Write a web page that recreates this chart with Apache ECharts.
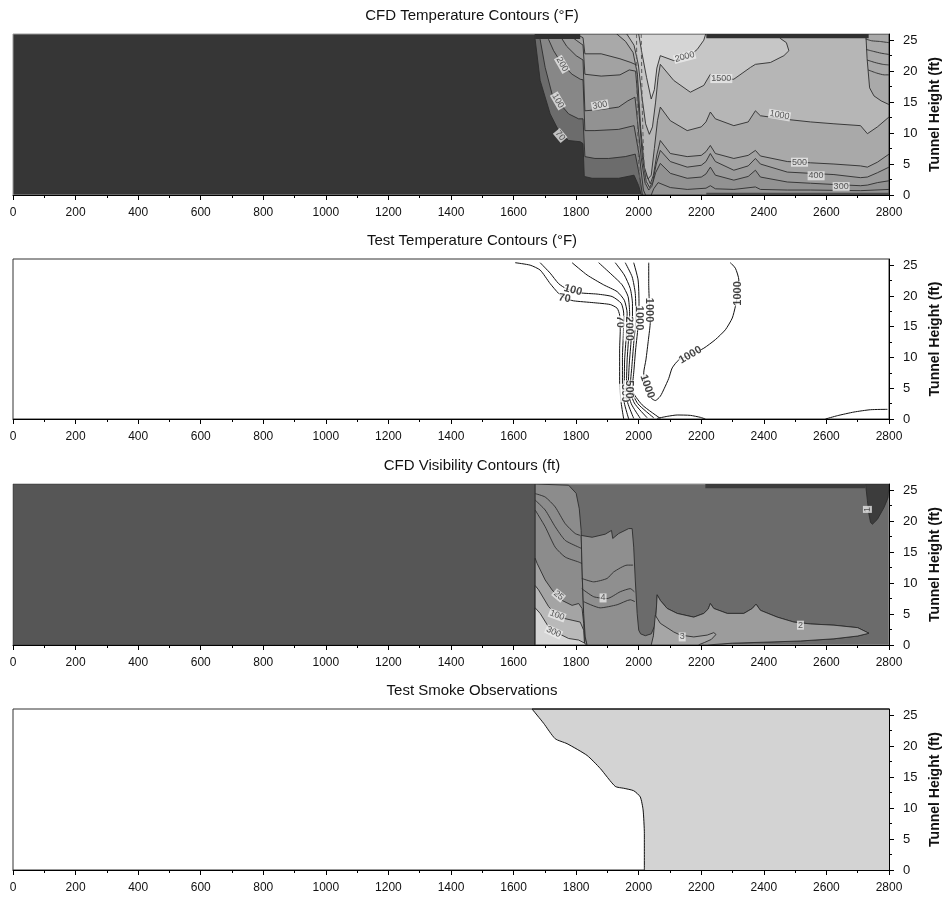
<!DOCTYPE html>
<html>
<head>
<meta charset="utf-8">
<script src="https://cdn.jsdelivr.net/npm/echarts@6/dist/echarts.min.js"></script>
<style>html,body{margin:0;padding:0;background:#fff}#c{width:944px;height:900px}</style>
</head>
<body>
<div id="c"></div>
<script>
// ---------- shared axis data ----------
const xRange = [0, 2800];
const yRange = [0, 26];
const yTickValues = [0, 5, 10, 15, 20, 25];
const panelTitles = ['CFD Temperature Contours (\u00B0F)', 'Test Temperature Contours (\u00B0F)', 'CFD Visibility Contours (ft)', 'Test Smoke Observations'];
const yAxisName = 'Tunnel Height (ft)';

// ---------- Panel 1: CFD temperature, filled regions (>= level) ----------
const cfdT70 = [[1669,26],[1669,25.1],[1685,18.5],[1717,13.1],[1744,10.4],[1776,8.8],[1813,8.6],[1822,8.3],[1826,3.0],[1851,2.7],[1936,2.7],[1985,3.2],[2000,1.5],[2008,0],[2800,0],[2800,26]];
const cfdT100 = [[1685,26],[1685,25.1],[1701,20.6],[1723,16.3],[1744,15.0],[1776,13.1],[1808,12.3],[1822,12.3],[1828,6.2],[1860,5.9],[1904,5.9],[1957,6.2],[1989,6.6],[2003,3.0],[2012,0],[2800,0],[2800,26]];
const cfdT200 = [[1712,26],[1712,25.1],[1728,23.3],[1755,21.1],[1787,19.5],[1813,18.7],[1822,18.6],[1828,10.4],[1860,10.4],[1936,10.6],[1985,11.2],[2003,6.0],[2015,0.8],[2022,0],[2800,0],[2800,26]];
const cfdTFloorBand = [[2040,0],[2048,1.0],[2062,2.0],[2101,1.2],[2155,0.9],[2215,1.1],[2229,1.5],[2245,1.0],[2304,0.9],[2373,1.3],[2389,0.9],[2475,0.8],[2549,0.8],[2709,0.7],[2800,0.9],[2800,0]];
const cfdT300 = [[1745,26],[1770,24.0],[1800,22.5],[1822,21.8],[1828,13.6],[1880,13.8],[1936,14.2],[1965,15.2],[1988,15.8],[1996,12.0],[2008,6.0],[2020,2.0],[2032,0.8],[2042,1.4],[2054,3.6],[2069,5.1],[2101,3.5],[2155,2.7],[2200,2.9],[2215,3.4],[2229,4.5],[2245,3.2],[2304,2.4],[2350,3.0],[2373,4.0],[2389,2.9],[2475,2.1],[2549,1.9],[2624,1.7],[2709,1.5],[2731,1.6],[2763,2.0],[2800,2.3],[2800,26]];
const cfdT400 = [[1775,26],[1800,25.0],[1822,24.2],[1828,19.5],[1880,19.2],[1940,19.4],[1970,20.2],[1990,20.0],[2000,14.0],[2012,6.0],[2024,2.2],[2035,1.2],[2045,2.2],[2056,5.0],[2069,7.2],[2101,5.4],[2155,4.5],[2200,4.8],[2215,5.4],[2229,6.7],[2245,5.4],[2304,4.0],[2350,4.7],[2373,5.9],[2389,5.0],[2475,3.7],[2549,3.5],[2624,3.3],[2709,2.8],[2731,2.9],[2763,3.6],[2800,4.5],[2800,26]];
const cfdT500 = [[1800,26],[1822,25.4],[1828,22.8],[1880,22.8],[1940,22.0],[1975,21.4],[1993,21.0],[2003,15.0],[2015,7.0],[2027,3.0],[2037,1.8],[2047,3.2],[2058,6.5],[2069,8.8],[2101,6.7],[2155,6.2],[2200,6.4],[2215,7.0],[2229,8.0],[2245,6.7],[2304,5.9],[2350,6.4],[2373,7.2],[2389,6.3],[2475,5.4],[2549,5.2],[2624,5.0],[2709,4.7],[2731,4.5],[2763,5.3],[2800,6.6],[2800,26]];
const cfdT1000 = [[1930,26],[1958,24.8],[1982,23.0],[1996,19.5],[2006,11.0],[2018,4.5],[2030,2.6],[2040,3.2],[2050,7.5],[2060,12.0],[2069,14.2],[2101,12.0],[2155,10.4],[2200,11.0],[2215,11.8],[2229,13.4],[2245,12.3],[2304,11.2],[2350,11.8],[2373,13.6],[2389,12.8],[2475,12.2],[2549,11.8],[2624,11.5],[2709,11.2],[2731,9.9],[2763,11.0],[2800,12.6],[2800,14.6],[2775,15.2],[2752,16.0],[2738,17.3],[2730,22.0],[2726,26]];
const cfdT1500 = [[1962,26],[1985,24.2],[1999,21.0],[2010,16.0],[2022,11.5],[2034,9.8],[2044,11.0],[2054,15.0],[2062,19.0],[2069,21.1],[2112,18.5],[2165,16.6],[2208,17.7],[2229,19.5],[2245,18.7],[2304,18.7],[2357,20.6],[2373,21.1],[2421,21.4],[2464,22.5],[2480,23.3],[2472,24.6],[2452,25.3],[2440,26]];
const cfdT2000 = [[2000,26],[2010,23.0],[2025,19.0],[2040,15.5],[2050,17.0],[2058,20.5],[2069,22.5],[2112,21.7],[2155,22.2],[2187,23.5],[2208,25.0],[2214,26]];
const cfdTCeilLeft = [[1669,25.2],[1813,25.2],[1813,26],[1669,26]];
const cfdTCeilRight = [[2216,25.3],[2735,25.3],[2735,26],[2216,26]];
const cfdTFloorStrip = [[2216,0],[2216,0.35],[2800,0.35],[2800,0]];
const cfdTWallLines = [
  [[2725,25.2],[2745,24.9],[2770,24.8],[2800,24.6]],
  [[2727,23.5],[2750,23.2],[2775,22.9],[2800,22.7]],
  [[2730,21.8],[2755,21.4],[2780,21.1],[2800,21.0]],
  [[2733,20.2],[2760,19.7],[2785,19.4],[2800,19.4]]
];
const cfdTPlumeLines = [
  [[1993,26],[1995,15],[1999,6],[2005,1.2]],
  [[2008,26],[2011,15],[2016,6],[2022,1.2]]
];
const cfdTLabels = [
  [2147,22.3,'2000',15],[2264,18.8,'1500',0],[2450,12.9,'1000',-10],[2514,5.3,'500',0],
  [2567,3.1,'400',0],[2647,1.35,'300',0],[1876,14.5,'300',10],[1755,21.1,'200',-60],
  [1742,15.2,'100',-60],[1749,9.6,'70',-50]
];

// ---------- Panel 2: test temperature contour lines ----------
const testT70 = [[1605,25.4],[1653,25.0],[1685,24.2],[1717,22.0],[1744,20.4],[1765,19.6],[1792,19.2],[1856,18.9],[1909,18.6],[1931,18.0],[1939,16.9],[1941,14.5],[1939,11.2],[1939,5.8],[1944,2.6],[1952,0]];
const testT100 = [[1685,25.4],[1717,23.7],[1744,22.0],[1771,21.1],[1813,20.5],[1867,20.3],[1915,19.9],[1944,18.8],[1952,17.2],[1951,13.9],[1948,10.0],[1948,5.8],[1954,2.6],[1968,0]];
const testTa = [[1787,25.4],[1835,23.4],[1888,21.8],[1931,20.7],[1954,19.3],[1963,17.2],[1960,13.4],[1955,9.6],[1954,5.8],[1965,2.6],[1984,0.1]];
const testTb = [[1872,25.4],[1915,23.4],[1947,21.8],[1966,19.9],[1971,17.2],[1968,13.4],[1963,9.6],[1961,5.8],[1976,2.5],[2005,0.1]];
const testTc = [[1925,25.4],[1954,23.4],[1973,21.2],[1980,18.8],[1980,16.6],[1976,12.9],[1970,9.1],[1967,5.8],[1986,2.6],[2027,0.2]];
const testTd = [[1957,25.4],[1979,23.1],[1989,20.4],[1991,16.6],[1984,12.3],[1978,8.5],[1973,5.3],[1997,2.5],[2048,0.2]];
const testTe = [[1984,25.4],[1998,22.6],[2001,18.8],[1999,15.6],[1990,11.2],[1984,7.5],[1979,4.8],[2011,2.3],[2069,0.1]];
const testT1000 = [[2032,25.4],[2032,22.0],[2034,18.8],[2037,15.8],[2031,12.9],[2023,9.6],[2016,7.5],[2019,6.1],[2027,4.8],[2040,3.4],[2053,3.0],[2069,3.7],[2082,5.0],[2096,6.6],[2107,8.3],[2128,9.6],[2165,10.4],[2208,11.5],[2245,12.9],[2277,14.5],[2299,16.4],[2309,18.3],[2317,20.4],[2320,22.6],[2309,24.5],[2293,25.4]];
const testFloorBump = [[2059,0.1],[2091,0.43],[2123,0.65],[2165,0.59],[2197,0.27],[2213,0]];
const testFloorRight = [[2597,0],[2635,0.54],[2688,1.13],[2741,1.51],[2795,1.57]];
const testTLabels = [
  [1790,20.95,'100',-15],[1763,19.6,'70',-10],[1941,15.8,'70',-90],[1969,14.7,'2000',-90],
  [2000,16.4,'1000',-90],[2034,17.7,'1000',-90],[2317,20.4,'1000',90],[2165,10.4,'1000',30],
  [2027,5.3,'1000',-70],[1955,4.2,'300',-90],[1970,4.8,'500',-90]
];

// ---------- Panel 3: CFD visibility regions ----------
const visLeft = [[0,0],[0,26],[1669,26],[1669,0]];
const visZoneA = [[1669,26],[1776,25.8],[1800,24.5],[1810,22.0],[1816,18.5],[1820,10.5],[1824,5.1],[1829,1.3],[1835,0],[1669,0]];
const visZone25 = [[1669,14.0],[1675,13.2],[1701,10.5],[1723,8.9],[1755,7.2],[1787,6.4],[1808,6.7],[1819,5.9],[1824,3.5],[1827,0],[1669,0]];
const visZone100 = [[1669,9.6],[1680,8.9],[1712,6.2],[1744,4.5],[1787,4.0],[1813,3.7],[1824,2.4],[1827,0],[1669,0]];
const visZone300 = [[1669,6.0],[1685,5.1],[1712,2.9],[1744,1.85],[1776,1.05],[1808,0.8],[1829,0.25],[1832,0],[1669,0]];
const visZoneB = [[1816,17.7],[1851,17.4],[1893,17.9],[1913,18.5],[1917,17.2],[1936,18.0],[1968,18.8],[1979,18.8],[1984,15.8],[1989,10.5],[1995,5.1],[2000,2.4],[2006,1.8],[2021,1.5],[2040,1.8],[2052,3.2],[2056,5.5],[2059,8.1],[2069,7.2],[2091,5.9],[2123,5.1],[2176,4.5],[2208,5.1],[2222,5.8],[2229,6.7],[2240,5.9],[2283,5.1],[2336,5.1],[2363,5.9],[2375,6.6],[2389,5.6],[2443,4.5],[2496,3.7],[2549,3.4],[2624,3.2],[2700,2.8],[2736,1.9],[2700,1.45],[2624,1.0],[2517,0.65],[2400,0.45],[2300,0.3],[2219,0],[1835,0],[1829,1.3],[1824,5.1],[1820,10.5]];
const visZoneC = [[2045,0],[2048,1.5],[2052,3.2],[2056,5.5],[2059,8.1],[2069,7.2],[2091,5.9],[2123,5.1],[2176,4.5],[2208,5.1],[2222,5.8],[2229,6.7],[2240,5.9],[2283,5.1],[2336,5.1],[2363,5.9],[2375,6.6],[2389,5.6],[2443,4.5],[2496,3.7],[2549,3.4],[2624,3.2],[2700,2.8],[2736,1.9],[2700,1.45],[2624,1.0],[2517,0.65],[2400,0.45],[2300,0.3],[2219,0]];
const visZone3 = [[2047,1.5],[2053,4.8],[2069,3.5],[2112,2.1],[2133,1.6],[2176,1.3],[2219,1.6],[2240,2.0],[2247,1.7],[2232,0.9],[2210,0.4],[2190,0],[2040,0]];
const visDarkCorner = [[2725,26],[2731,23.3],[2736,21.1],[2741,19.8],[2747,19.5],[2763,20.3],[2784,22.2],[2797,23.8],[2800,26]];
const visCeil = [[2213,25.3],[2725,25.3],[2725,26],[2213,26]];
const visLines = [
  [[1669,24.45],[1701,23.9],[1733,22.3],[1765,19.6],[1797,18.0],[1813,17.7]],
  [[1669,23.4],[1701,21.8],[1733,19.1],[1765,16.9],[1808,15.8],[1817,15.6]],
  [[1669,21.8],[1701,19.1],[1733,15.8],[1765,14.2],[1808,13.4],[1819,13.15]],
  [[1818,10.75],[1856,10.2],[1899,10.75],[1920,11.8],[1963,12.9],[1982,12.9]],
  [[1818,9.1],[1856,7.8],[1899,7.5],[1941,8.6],[1973,9.1],[1986,8.6]],
  [[1824,7.0],[1877,6.0],[1931,6.5],[1973,7.3],[1988,7.0]]
];
const visLabels = [
  [1744,8.0,'25',-40],[1739,4.8,'100',-20],[1728,2.1,'300',-25],[1886,7.6,'4',0],
  [2139,1.3,'3',0],[2517,3.2,'2',0],[2731,21.9,'1',90]
];

// ---------- Panel 4: observed smoke front ----------
const smokeEdge = [[1659,26],[1696,23.7],[1733,21.2],[1771,20.4],[1835,18.5],[1877,16.4],[1925,13.5],[1952,13.2],[1984,12.8],[2005,11.8],[2014,9.7],[2018,5.9],[2018,0]];
const smokeFarCorners = [[2800,0],[2800,26]];
const smokeCeiling = [[1659,26],[2800,26]];

// ---------- build chart ----------
const FONT = '"Liberation Sans", Arial, Helvetica, sans-serif';
const grids = [
  {top:34, height:161, bg:'#363636', border:'#9a9a9a'},
  {top:259, height:160, bg:'#ffffff', border:'#333333'},
  {top:484, height:161, bg:'#6b6b6b', border:'#9a9a9a'},
  {top:709, height:161, bg:'#ffffff', border:'#333333'}
];

function polySeries(gi, pts, fill, stroke, lw, z) {
  return {
    type:'custom', xAxisIndex:gi, yAxisIndex:gi, data:pts, clip:true, silent:true,
    animation:false, z:z || 2,
    renderItem: function(params, api) {
      if (params.dataIndex !== 0) return null;
      const points = pts.map(function(p){ return api.coord(p); });
      return {type:'polygon', shape:{points:points},
              style:{fill:fill, stroke:stroke || 'none', lineWidth:lw || 0}};
    }
  };
}
function lineSeries(gi, pts, color, width, dash, z) {
  return {
    type:'line', xAxisIndex:gi, yAxisIndex:gi, data:pts, showSymbol:false, symbol:'none',
    smooth:0.2, clip:true, silent:true, animation:false, z:z || 3,
    lineStyle:{color:color, width:width, type:dash || 'solid'}
  };
}
function labelSeries(gi, arr, style) {
  return {
    type:'scatter', xAxisIndex:gi, yAxisIndex:gi, symbolSize:0, silent:true, animation:false, z:10,
    data: arr.map(function(a){ return {value:[a[0], a[1]], name:a[2], label:{rotate:a[3] || 0}}; }),
    label: Object.assign({show:true, position:'inside', formatter:function(p){ return p.name; },
                          fontFamily:FONT}, style)
  };
}

const series = [];
const EDGE = '#2c2c2c';
// Panel 1
[[cfdT70,'#6c6c6c'],[cfdT100,'#878787'],[cfdT200,'#929292'],[cfdTFloorBand,'#959595'],
 [cfdT300,'#9b9b9b'],[cfdT400,'#a2a2a2'],[cfdT500,'#a9a9a9'],[cfdT1000,'#b6b6b6'],
 [cfdT1500,'#c6c6c6'],[cfdT2000,'#d5d5d5']].forEach(function(l){
  series.push(polySeries(0, l[0], l[1], EDGE, 0.9));
});
series.push(polySeries(0, cfdTCeilLeft, '#303030'));
series.push(polySeries(0, cfdTCeilRight, '#303030'));
series.push(polySeries(0, cfdTFloorStrip, '#4a4a4a'));
cfdTWallLines.forEach(function(l){ series.push(lineSeries(0, l, EDGE, 0.9)); });
cfdTPlumeLines.forEach(function(l){ series.push(lineSeries(0, l, '#5a5a5a', 1, [4,3])); });
series.push(labelSeries(0, cfdTLabels, {fontSize:9, color:'#333', backgroundColor:'rgba(238,238,238,0.95)', padding:[0,1]}));

// Panel 2
[testT70, testT100, testTa, testTb, testTc, testTd, testTe, testT1000, testFloorBump, testFloorRight].forEach(function(l){
  series.push(lineSeries(1, l, '#111', 1));
});
series.push(labelSeries(1, testTLabels, {fontSize:11, fontWeight:'bold', color:'#111', backgroundColor:'#fff', padding:[0,0]}));

// Panel 3
series.push(polySeries(2, visLeft, '#565656', '#3a3a3a', 0.8));
[[visZoneA,'#8c8c8c'],[visZone25,'#a4a4a4'],[visZone100,'#b9b9b9'],[visZone300,'#d6d6d6'],
 [visZoneB,'#8f8f8f'],[visZoneC,'#9c9c9c'],[visZone3,'#a6a6a6']].forEach(function(l){
  series.push(polySeries(2, l[0], l[1], EDGE, 0.9));
});
series.push(polySeries(2, visDarkCorner, '#3c3c3c', EDGE, 0.9));
series.push(polySeries(2, visCeil, '#3c3c3c'));
visLines.forEach(function(l){ series.push(lineSeries(2, l, EDGE, 0.9)); });
series.push(labelSeries(2, visLabels, {fontSize:9, color:'#333', backgroundColor:'rgba(238,238,238,0.95)', padding:[0,1]}));

// Panel 4
series.push(polySeries(3, smokeEdge.concat(smokeFarCorners), '#d3d3d3'));
series.push(lineSeries(3, smokeEdge, '#111', 1));
series.push(lineSeries(3, smokeCeiling, '#111', 1.5));

const option = {
  animation:false,
  backgroundColor:'#ffffff',
  textStyle:{fontFamily:FONT},
  title: panelTitles.map(function(t, i){
    return {text:t, left:'center', top:grids[i].top - 31,
            textStyle:{fontSize:15, fontWeight:'normal', color:'#111', fontFamily:FONT}};
  }),
  grid: grids.map(function(g){
    return {left:13, right:55, top:g.top, height:g.height, show:true,
            backgroundColor:g.bg, borderColor:g.border, borderWidth:1,
            containLabel:false, outerBoundsMode:'none'};
  }),
  xAxis: grids.map(function(g, i){
    return {gridIndex:i, type:'value', min:xRange[0], max:xRange[1], interval:200,
      axisLine:{show:true, onZero:false, lineStyle:{color:'#000', width:1}},
      axisTick:{show:true, length:5, lineStyle:{color:'#000'}},
      minorTick:{show:true, splitNumber:2, length:3, lineStyle:{color:'#000'}},
      axisLabel:{fontSize:12, color:'#111', fontFamily:FONT, margin:12, hideOverlap:false,
                 formatter:function(v){ return String(v); }},
      splitLine:{show:false}, minorSplitLine:{show:false}};
  }),
  yAxis: grids.map(function(g, i){
    return {gridIndex:i, type:'value', position:'right', min:yRange[0], max:yRange[1], interval:5,
      axisLine:{show:true, onZero:false, lineStyle:{color:'#000', width:1}},
      axisTick:{show:true, length:5, customValues:yTickValues, lineStyle:{color:'#000'}},
      minorTick:{show:true, splitNumber:2, length:3, lineStyle:{color:'#000'}},
      axisLabel:{fontSize:13, color:'#111', fontFamily:FONT, margin:14, customValues:yTickValues,
                 formatter:function(v){ return v > 25 ? '' : String(v); }},
      splitLine:{show:false}, minorSplitLine:{show:false},
      name:yAxisName, nameLocation:'middle', nameRotate:90, nameGap:36,
      nameTextStyle:{fontSize:14, fontWeight:'bold', color:'#111', fontFamily:FONT}};
  }),
  series: series
};

const chart = echarts.init(document.getElementById('c'), null, {renderer:'canvas'});
chart.setOption(option);
</script>
</body>
</html>
